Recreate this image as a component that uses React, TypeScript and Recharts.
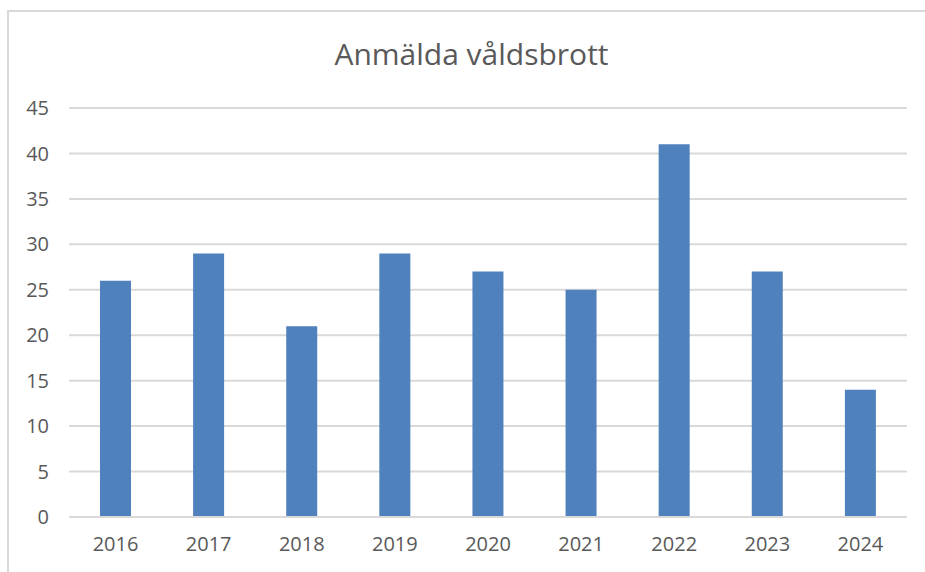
import { BarChart, Bar, XAxis, YAxis, CartesianGrid } from 'recharts';

const years = ['2016', '2017', '2018', '2019', '2020', '2021', '2022', '2023', '2024'];
const crimes = [26, 29, 21, 29, 27, 25, 41, 27, 14];
const yTicks = [0, 5, 10, 15, 20, 25, 30, 35, 40, 45];

const data = years.map((year, i) => ({ year, value: crimes[i] }));

const App = () => {
  return (
    <div style={{
      position: 'absolute',
      left: 0,
      top: 0,
      width: '925px',
      height: '572px',
      overflow: 'hidden',
      backgroundColor: '#FFFFFF',
      fontFamily: '"Open Sans", sans-serif',
    }}>
      <div style={{
        position: 'absolute',
        left: '7px',
        top: '10px',
        width: '960px',
        height: '600px',
        border: '2px solid #D9D9D9',
        boxSizing: 'border-box',
      }} />
      <div style={{
        position: 'absolute',
        left: 0,
        top: '33px',
        width: '943px',
        textAlign: 'center',
        fontSize: '30px',
        color: '#595959',
        lineHeight: '42px',
      }}>
        Anmälda våldsbrott
      </div>
      <div style={{ position: 'absolute', left: 0, top: 0 }}>
        <BarChart
          width={925}
          height={572}
          data={data}
          margin={{ top: 108, right: 18, bottom: 25, left: 29 }}
          barCategoryGap={0}
        >
          <CartesianGrid vertical={false} stroke="#D9D9D9" strokeWidth={2} />
          <XAxis
            dataKey="year"
            height={30}
            axisLine={{ stroke: '#D9D9D9', strokeWidth: 2 }}
            tickLine={false}
            tickMargin={14}
            tick={{ fill: '#595959', fontSize: 20 }}
          />
          <YAxis
            width={40}
            domain={[0, 45]}
            ticks={yTicks}
            axisLine={false}
            tickLine={false}
            tickMargin={14}
            tick={{ fill: '#595959', fontSize: 20 }}
          />
          <Bar dataKey="value" fill="#4F81BD" barSize={31} isAnimationActive={false} />
        </BarChart>
      </div>
    </div>
  );
};

export default App;
